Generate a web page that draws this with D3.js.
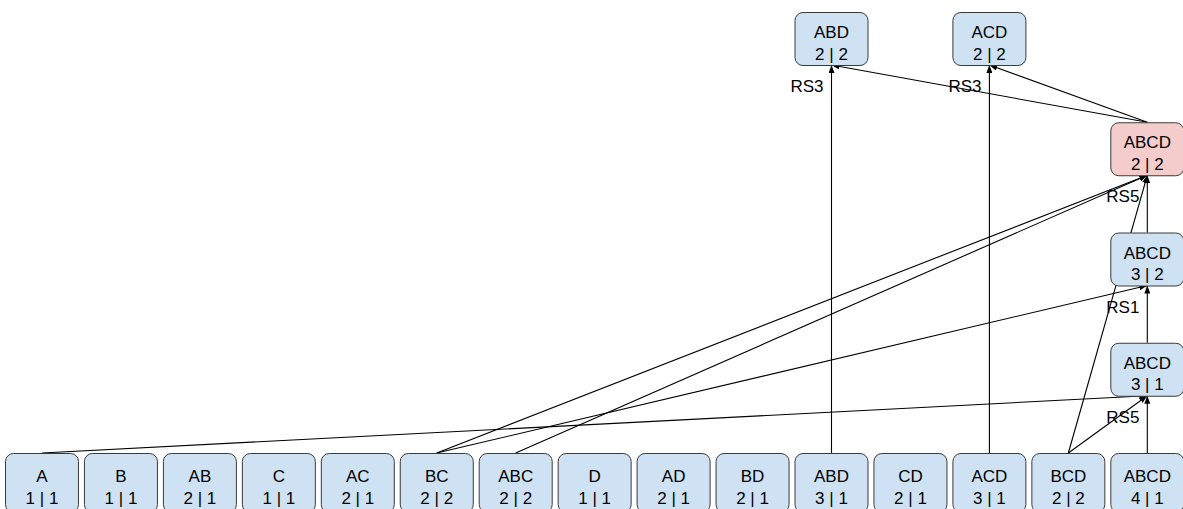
<!DOCTYPE html>
<html>
<head>
<meta charset="utf-8">
<script src="https://cdn.jsdelivr.net/npm/d3@7"></script>
<style>
  body { margin: 0; background: #fff; }
  svg { display: block; font-family: "Liberation Sans", Arial, sans-serif; }
</style>
</head>
<body>
<div id="graph"></div>
<script>
// Bottom row: every subset with its counts
const bottomNames = ["A", "B", "AB", "C", "AC", "BC", "ABC", "D", "AD", "BD", "ABD", "CD", "ACD", "BCD", "ABCD"];
const bottomCounts = ["1 | 1", "1 | 1", "2 | 1", "1 | 1", "2 | 1", "2 | 2", "2 | 2", "1 | 1", "2 | 1", "2 | 1", "3 | 1", "2 | 1", "3 | 1", "2 | 2", "4 | 1"];

// Upper nodes, placed above the bottom node with the same name
const upperNames = ["ABCD", "ABCD", "ABCD", "ABD", "ACD"];
const upperCounts = ["3 | 1", "3 | 2", "2 | 2", "2 | 2", "2 | 2"];
const upperLevels = [1, 2, 3, 4, 4];

const highlighted = ["ABCD 2 | 2"];

// links: source, target, label
const links = [
  ["A 1 | 1", "ABCD 3 | 1", ""],
  ["BC 2 | 2", "ABCD 3 | 2", ""],
  ["BC 2 | 2", "ABCD 2 | 2", ""],
  ["ABC 2 | 2", "ABCD 2 | 2", ""],
  ["BCD 2 | 2", "ABCD 2 | 2", ""],
  ["BCD 2 | 2", "ABCD 3 | 1", "RS5"],
  ["ABCD 4 | 1", "ABCD 3 | 1", ""],
  ["ABCD 3 | 1", "ABCD 3 | 2", "RS1"],
  ["ABCD 3 | 2", "ABCD 2 | 2", "RS5"],
  ["ABD 3 | 1", "ABD 2 | 2", "RS3"],
  ["ACD 3 | 1", "ACD 2 | 2", "RS3"],
  ["ABCD 2 | 2", "ABD 2 | 2", ""],
  ["ABCD 2 | 2", "ACD 2 | 2", ""]
];

const width = 1183, height = 509;
const boxW = 73, boxH = 53, bottomH = 59;

const nodes = bottomNames.map((n, i) => ({ name: n, count: bottomCounts[i], level: 0 }))
  .concat(upperNames.map((n, i) => ({ name: n, count: upperCounts[i], level: upperLevels[i] })));
nodes.forEach(d => d.id = d.name + " " + d.count);
const byId = new Map(nodes.map(d => [d.id, d]));

const x = d3.scalePoint().domain(bottomNames).range([42, 1147.3]);
const y = d3.scaleLinear().domain([0, 4]).range([453, 12]);
const h = d => d.level === 0 ? bottomH : boxH;

const svg = d3.select("#graph")
  .append("svg")
  .attr("width", width)
  .attr("height", height);

svg.append("defs").append("marker")
  .attr("id", "arrow")
  .attr("markerUnits", "userSpaceOnUse")
  .attr("viewBox", "0 0 8 6")
  .attr("refX", 8)
  .attr("refY", 3)
  .attr("markerWidth", 8)
  .attr("markerHeight", 6)
  .attr("orient", "auto")
  .append("path")
  .attr("d", "M0,0L8,3L0,6Z")
  .attr("fill", "#000");

// Links go from top of source to bottom of target
svg.append("g")
  .selectAll("line")
  .data(links)
  .join("line")
  .attr("x1", d => x(byId.get(d[0]).name))
  .attr("y1", d => y(byId.get(d[0]).level))
  .attr("x2", d => x(byId.get(d[1]).name))
  .attr("y2", d => y(byId.get(d[1]).level) + h(byId.get(d[1])))
  .attr("stroke", "#000")
  .attr("stroke-width", 1.1)
  .attr("marker-end", "url(#arrow)");

// Boxes
const node = svg.append("g")
  .selectAll("g")
  .data(nodes)
  .join("g")
  .attr("transform", d => `translate(${x(d.name)},${y(d.level)})`);

node.append("rect")
  .attr("x", -boxW / 2)
  .attr("y", 0.5)
  .attr("width", boxW)
  .attr("height", d => h(d))
  .attr("rx", 8)
  .attr("fill", d => highlighted.includes(d.id) ? "#f4cccc" : "#cfe2f3")
  .attr("stroke", "#3a3a3a")
  .attr("stroke-width", 1);

node.append("text")
  .attr("text-anchor", "middle")
  .attr("y", d => h(d) / 2 - 0.5)
  .style("font-size", "17px")
  .attr("fill", "#000")
  .text(d => d.name);

node.append("text")
  .attr("text-anchor", "middle")
  .attr("y", d => h(d) / 2 + 21)
  .style("font-size", "17px")
  .attr("fill", "#000")
  .text(d => d.count);

// Edge labels sit just under the target box, left of the arrow
svg.append("g")
  .selectAll("text")
  .data(links.filter(d => d[2]))
  .join("text")
  .attr("x", d => x(byId.get(d[1]).name) - 41)
  .attr("y", d => y(byId.get(d[1]).level) + h(byId.get(d[1])) + 27)
  .style("font-size", "17px")
  .attr("fill", "#000")
  .text(d => d[2]);
</script>
</body>
</html>
